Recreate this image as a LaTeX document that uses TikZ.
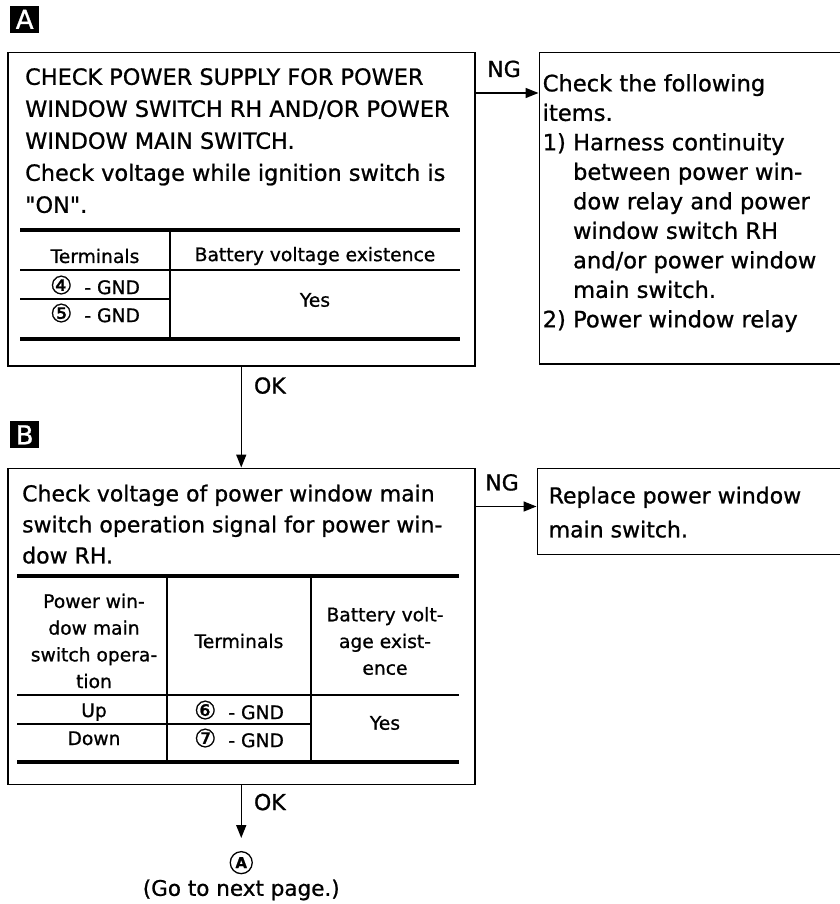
\documentclass[tikz,border=0pt]{standalone}
\usepackage{fontspec}
\setmainfont{DejaVu Sans}[FakeBold=0.9]
\usetikzlibrary{arrows.meta,positioning}
\newcommand{\cdig}[1]{{\fontsize{25}{25}\selectfont #1}}

\begin{document}
\begin{tikzpicture}[x=1pt, y=-1pt, every node/.style={font=\fontsize{22}{31}\selectfont},
  chk/.style={draw, line width=1.5pt, inner sep=0pt},
  txt/.style={align=left, inner sep=0pt},
  tcell/.style={align=center, inner sep=0pt, font=\fontsize{18.7}{26.7}\selectfont},
  tagbox/.style={fill=black, text=white, minimum width=29pt, minimum height=27pt, inner sep=0pt, font=\fontsize{26}{26}\selectfont},
  gocirc/.style={circle, draw, line width=1.3pt, minimum size=22pt, inner sep=0pt, font=\fontsize{15}{15}\selectfont\bfseries},
  lbl/.style={inner sep=0pt},
  arr/.style={-{Triangle[length=13pt,width=10pt]}, line width=1.5pt},
  thinrule/.style={line width=1.5pt},
  thickrule/.style={line width=4pt}]
\useasboundingbox (0,0) rectangle (839,904);
\node[chk, minimum width=467pt, minimum height=313pt, anchor=north west] (boxA) at (7,52) {};
\node[chk, minimum width=308pt, minimum height=311pt, right=63pt of boxA.north east, anchor=north west] (ngA) {};
\node[chk, minimum width=467pt, minimum height=316pt, below=101pt of boxA] (boxB) {};
\node[chk, minimum width=310pt, minimum height=86pt, right=61pt of boxB.north east, anchor=north west] (ngB) {};
\node[tagbox, above right=19pt and 3pt of boxA.north west] (tagA) {A};
\node[tagbox, above right=19pt and 3pt of boxB.north west] (tagB) {B};
\node[txt, font=\fontsize{22.4}{32}\selectfont, below right=16pt and 18pt of boxA.north west] (txtA) {CHECK POWER SUPPLY FOR POWER\\WINDOW SWITCH RH AND/OR POWER\\WINDOW MAIN SWITCH.\\Check voltage while ignition switch is\\\textquotedbl ON\textquotedbl.};
\node[txt, font=\fontsize{22.6}{29.5}\selectfont, below right=22pt and 4pt of ngA.north west] (txtNgA) {Check the following\\items.\\1) Harness continuity\\\phantom{1) }between power win-\\\phantom{1) }dow relay and power\\\phantom{1) }window switch RH\\\phantom{1) }and/or power window\\\phantom{1) }main switch.\\2) Power window relay};
\node[txt, below right=17pt and 15pt of boxB.north west] (txtB) {Check voltage of power window main\\switch operation signal for power win-\\dow RH.};
\node[txt, font=\fontsize{22}{34}\selectfont, below right=19pt and 12pt of ngB.north west] (txtNgB) {Replace power window\\main switch.};
\draw[thickrule] (20,230) -- (460,230) (20,339) -- (460,339);
\draw[thinrule] (20,270) -- (460,270) (20,299) -- (170,299) (170,230) -- (170,339);
\node[tcell] (tAh1) at (95,256) {Terminals};
\node[tcell] (tAh2) at (315,256) {Battery voltage existence};
\node[tcell] (tAr1) at (95,285) {\cdig{④}~~- GND};
\node[tcell] (tAr2) at (95,313) {\cdig{⑤}~~- GND};
\node[tcell] (tAyes) at (315,300) {Yes};
\draw[thickrule] (17,576) -- (459,576) (17,762) -- (459,762);
\draw[thinrule] (17,695) -- (459,695) (17,724) -- (311,724) (167,576) -- (167,762) (311,576) -- (311,762);
\node[tcell] (tBh1) at (94,641) {Power win-\\dow main\\switch opera-\\tion};
\node[tcell] (tBh2) at (239,641) {Terminals};
\node[tcell] (tBh3) at (385,641) {Battery volt-\\age exist-\\ence};
\node[tcell, anchor=base] (tBup) at (94,717) {Up};
\node[tcell, anchor=base] (tBdown) at (94,745) {Down};
\node[tcell] (tBr1) at (239,710) {\cdig{⑥}~~- GND};
\node[tcell] (tBr2) at (239,738) {\cdig{⑦}~~- GND};
\node[tcell] (tByes) at (385,723) {Yes};
\node[gocirc, below=66pt of boxB] (nextA) {A};
\node[lbl, font=\fontsize{21.5}{26}\selectfont, below=5pt of nextA] (goNext) {(Go to next page.)};
\draw[arr] (boxA) -- node[lbl, pos=0, anchor=north west, xshift=12pt, yshift=-10pt] (okA) {OK} (boxB);
\draw[arr] ([yshift=-41pt]boxA.north east) -- node[lbl, pos=0, anchor=south west, xshift=11pt, yshift=15pt] (ngAlbl) {NG} ([yshift=-41pt]ngA.north west);
\draw[arr] ([yshift=-39pt]boxB.north east) -- node[lbl, pos=0, anchor=south west, xshift=9pt, yshift=15pt] (ngBlbl) {NG} ([yshift=-39pt]ngB.north west);
\draw[arr, shorten >=13pt] (boxB) -- node[lbl, pos=0, anchor=north west, xshift=12pt, yshift=-8pt] (okB) {OK} (nextA);
\end{tikzpicture}
\end{document}
